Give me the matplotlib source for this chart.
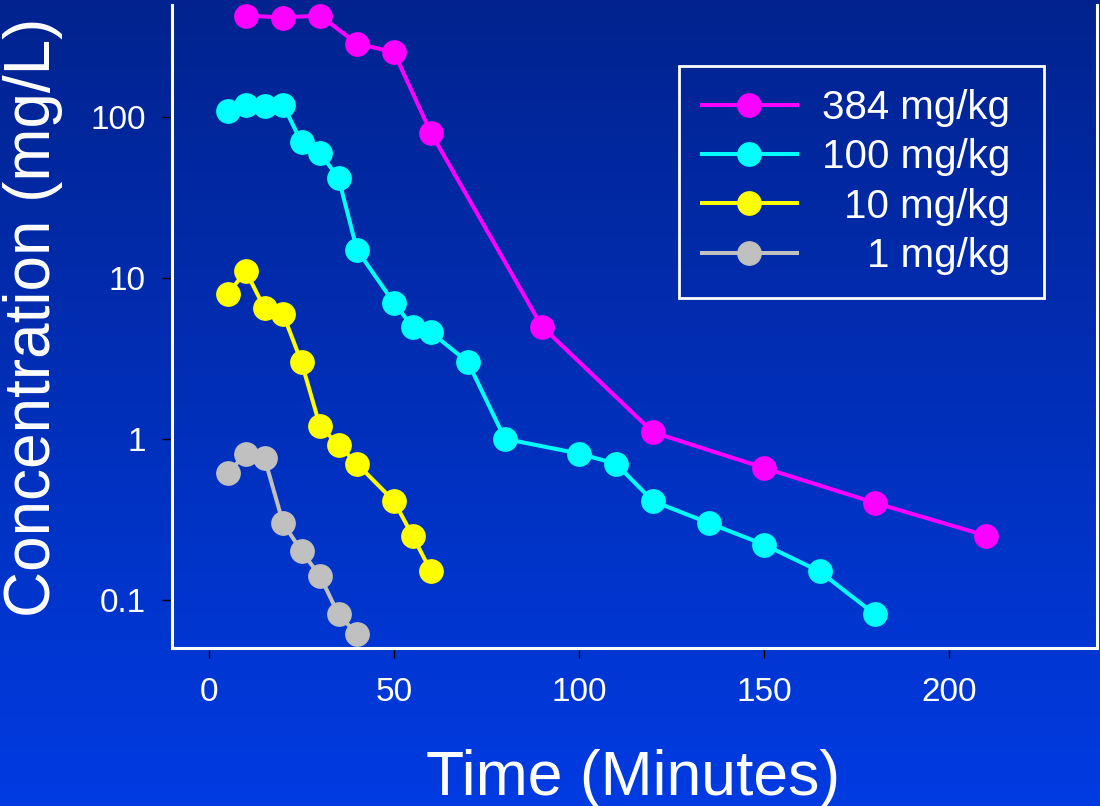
import numpy as np
import matplotlib
matplotlib.use("Agg")
import matplotlib.pyplot as plt
from matplotlib.colors import LinearSegmentedColormap

plt.rcParams['font.family'] = ['Liberation Sans', 'DejaVu Sans']

# ---- data ----
labels = ["384 mg/kg", "100 mg/kg", "10 mg/kg", "1 mg/kg"]
colors = ["#FF00FF", "#00FFFF", "#FFFF00", "#C0C0C0"]

t_384 = [10, 20, 30, 40, 50, 60, 90, 120, 150, 180, 210]
c_384 = [430, 418, 430, 288, 254, 80, 5.0, 1.1, 0.66, 0.40, 0.25]

t_100 = [5, 10, 15, 20, 25, 30, 35, 40, 50, 55, 60, 70, 80, 100, 110, 120, 135, 150, 165, 180]
c_100 = [110, 119, 117, 120, 70, 60, 42, 15, 7.0, 5.0, 4.6, 3.0, 1.0, 0.81, 0.70, 0.41, 0.30, 0.22, 0.15, 0.081]

t_10 = [5, 10, 15, 20, 25, 30, 35, 40, 50, 55, 60]
c_10 = [8.0, 11.0, 6.5, 6.0, 3.0, 1.2, 0.92, 0.70, 0.41, 0.25, 0.15]

t_1 = [5, 10, 15, 20, 25, 30, 35, 40]
c_1 = [0.61, 0.81, 0.76, 0.30, 0.20, 0.14, 0.081, 0.061]

x_ticks = [0, 50, 100, 150, 200]
y_ticks = [0.1, 1, 10, 100]
y_ticklabels = ["0.1", "1", "10", "100"]

series = [(t_384, c_384), (t_100, c_100), (t_10, c_10), (t_1, c_1)]

# ---- figure ----
fig = plt.figure(figsize=(11, 8.06), dpi=100)

# gradient background
bg = fig.add_axes([0, 0, 1, 1], zorder=-10)
cmap = LinearSegmentedColormap.from_list("bg", ["#02238F", "#003BE2"])
grad = np.linspace(0, 1, 256).reshape(-1, 1)
bg.imshow(grad, aspect="auto", cmap=cmap, extent=[0, 1, 0, 1], origin="upper")
bg.set_axis_off()

ax = fig.add_axes([172/1100, 1-648/806, (1097-172)/1100, (648-5)/806])
ax.set_facecolor("none")

for (t, c), col, lab in zip(series, colors, labels):
    ax.plot(t, c, color=col, lw=2.9, marker="o", ms=16.8, mec=col, mfc=col,
            label=lab + " ", clip_on=False)

ax.set_yscale("log")
ax.set_xlim(-10, 240)
ax.set_ylim(0.05, 500)
ax.set_xticks(x_ticks)
ax.set_xticklabels([str(v) for v in x_ticks])
ax.set_yticks(y_ticks)
ax.set_yticklabels(y_ticklabels)
ax.minorticks_off()
ax.tick_params(axis="both", which="major", direction="out", length=7, width=1,
               color="black", labelcolor="white", labelsize=24)
ax.tick_params(axis="x", pad=14)
ax.tick_params(axis="y", pad=12)

for s in ["left", "bottom", "right"]:
    ax.spines[s].set_color("white")
    ax.spines[s].set_linewidth(2.2)
ax.spines["top"].set_visible(False)

fig.text(633/1100, 1-795/806, "Time (Minutes)", color="white", fontsize=45,
         ha="center", va="baseline")
fig.text(33/1100, 1-317/806, "Concentration (mg/L)", color="white", fontsize=46,
         rotation=90, ha="center", va="center")

leg = ax.legend(loc="upper right", bbox_to_anchor=((1044-172)/925, (648-66)/643),
                borderaxespad=0, fontsize=29, frameon=True, fancybox=False,
                facecolor="none", edgecolor="white", framealpha=1,
                labelcolor="white",
                handlelength=2.36, handletextpad=0.62, labelspacing=0.28,
                borderpad=0.57, markerscale=1.0)
leg.get_frame().set_linewidth(2)

# right-align legend texts (shift each text right within the widest one)
fig.canvas.draw()
renderer = fig.canvas.get_renderer()
widths = [t.get_window_extent(renderer).width for t in leg.get_texts()]
mw = max(widths)
for t, w in zip(leg.get_texts(), widths):
    t.set_position((mw - w, 0))

fig.savefig("out.png", dpi=100)
